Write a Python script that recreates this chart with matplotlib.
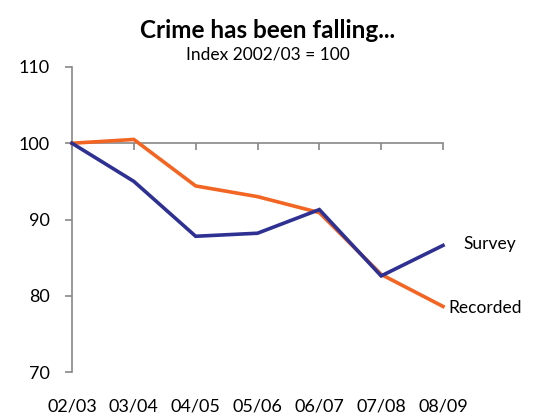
"""Recreate the 'Crime has been falling...' index line chart."""
import matplotlib
matplotlib.use("Agg")
import matplotlib.pyplot as plt

years = ["02/03", "03/04", "04/05", "05/06", "06/07", "07/08", "08/09"]
survey = [100, 95.0, 87.8, 88.2, 91.3, 82.6, 86.6]
recorded = [100, 100.5, 94.4, 93.0, 90.9, 82.8, 78.6]

NAVY = "#2E3192"
ORANGE = "#F26522"
AXIS = "#888888"

plt.rcParams["font.family"] = ["Lato", "DejaVu Sans"]

fig = plt.figure(figsize=(5.36, 4.15), dpi=100)
ax = fig.add_axes([72 / 536, 1 - 372 / 415, (443 - 72) / 536, (372 - 67) / 415])

x = list(range(len(years)))
ax.plot(x, recorded, color=ORANGE, lw=2.6, solid_joinstyle="miter", clip_on=False, zorder=3)
ax.plot(x, survey, color=NAVY, lw=2.6, solid_joinstyle="miter", clip_on=False, zorder=4)

ax.set_xlim(0, len(years) - 1)
ax.set_ylim(70, 110)
ax.set_yticks([70, 80, 90, 100, 110])

# category axis crosses at 100
ax.spines["bottom"].set_position(("data", 100))
for side in ("top", "right"):
    ax.spines[side].set_visible(False)
for side in ("left", "bottom"):
    ax.spines[side].set_color(AXIS)
    ax.spines[side].set_linewidth(1.2)

ax.set_xticks(x)
ax.set_xticklabels([])
ax.tick_params(axis="x", direction="out", length=5, color=AXIS, width=1.2)
ax.tick_params(axis="y", direction="out", length=5, color=AXIS, width=1.2,
               labelsize=13, pad=11)

for i, lab in enumerate(years):
    ax.annotate(lab, xy=(i, 70), xycoords="data", xytext=(0, -25),
                textcoords="offset points", ha="center", va="center", fontsize=13,
                annotation_clip=False)

ax.annotate("Survey", xy=(x[-1], survey[-1]), xytext=(15, 1),
            textcoords="offset points", ha="left", va="center", fontsize=12.5)
ax.annotate("Recorded", xy=(x[-1], recorded[-1]), xytext=(4, -1),
            textcoords="offset points", ha="left", va="center", fontsize=12.5,
            annotation_clip=False)

fig.text(0.5, 1 - 30 / 415, "Crime has been falling...", ha="center", va="center",
         fontsize=17.5, fontweight="bold")
fig.text(0.5, 1 - 54 / 415, "Index 2002/03 = 100", ha="center", va="center", fontsize=12.5)

fig.savefig("out.png", dpi=100)
